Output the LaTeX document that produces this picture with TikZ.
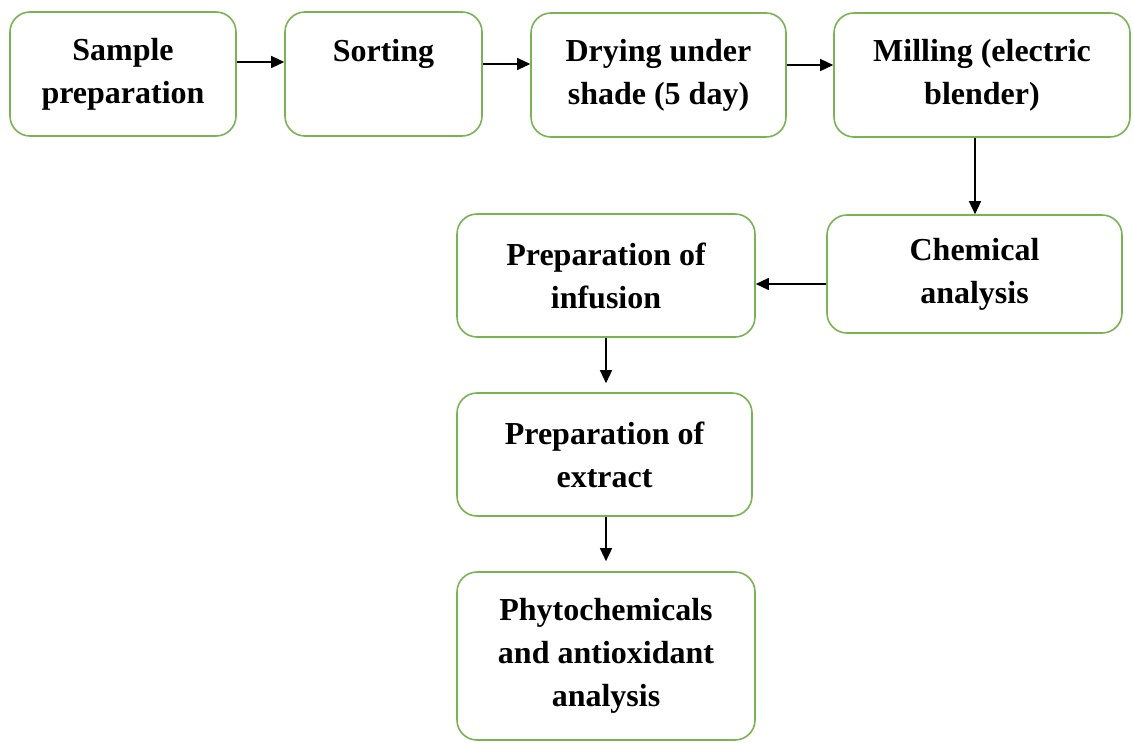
\documentclass[tikz,border=0pt]{standalone}
\usepackage{fontspec}
\setmainfont{Liberation Serif}
\usetikzlibrary{arrows.meta}
\definecolor{boxgreen}{RGB}{120,180,80}
\begin{document}
\begin{tikzpicture}[x=1pt,y=1pt,
  box/.style={draw=boxgreen, line width=1.6pt, rounded corners=20pt, fill=white,
    align=center, font=\fontsize{32}{43}\selectfont\bfseries, inner sep=0pt},
  arr/.style={line width=1.4pt, -{Triangle[length=13pt,width=12pt]}}]
\useasboundingbox (0,0) rectangle (1134,-742);
\node[box, minimum width=226pt, minimum height=124pt] (sample) at (123,-74) {Sample\\preparation};
\node[box, minimum width=197pt, minimum height=124pt] (sorting) at (383.5,-74) {\raisebox{-3pt}{Sorting}\\\phantom{g}};
\node[box, minimum width=255pt, minimum height=124pt] (drying) at (658.5,-75) {Drying under\\shade (5 day)};
\node[box, minimum width=296pt, minimum height=124pt] (milling) at (982,-75) {Milling (electric\\blender)};
\node[box, minimum width=295pt, minimum height=118pt] (chem) at (974.5,-274) {Chemical\\analysis};
\node[box, minimum width=298pt, minimum height=123pt] (infusion) at (606,-275.5) {Preparation of\\infusion};
\node[box, minimum width=295pt, minimum height=123pt] (extract) at (604.5,-454.5) {Preparation of\\extract};
\node[box, minimum width=298pt, minimum height=168pt] (phyto) at (606,-656) {Phytochemicals\\and antioxidant\\analysis};

\draw[arr] ([yshift=12pt]sample.east) -- ([yshift=12pt]sample.east -| sorting.west);
\draw[arr] ([yshift=10pt]sorting.east) -- ([yshift=10pt]sorting.east -| drying.west);
\draw[arr] ([yshift=10pt]drying.east) -- ([yshift=10pt]drying.east -| milling.west);
\draw[arr] ([xshift=-7pt]milling.south) -- ([xshift=-7pt]milling.south |- chem.north);
\draw[arr] ([yshift=-10pt]chem.west) -- ([yshift=-10pt]chem.west -| infusion.east);
\draw[arr] (infusion.south) -- ([yshift=9pt]infusion.south |- extract.north);
\draw[arr] (extract.south -| phyto.north) -- ([yshift=10pt]phyto.north);
\end{tikzpicture}
\end{document}
